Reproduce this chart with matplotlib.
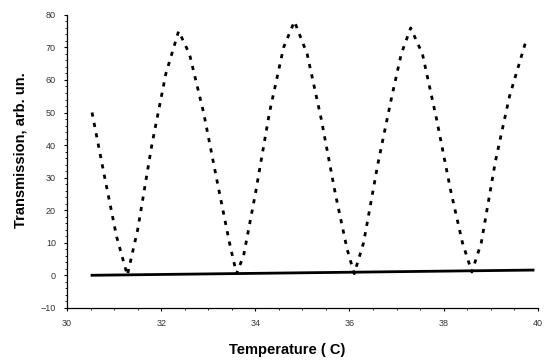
import matplotlib
matplotlib.use("Agg")
import matplotlib.pyplot as plt
from matplotlib.ticker import MultipleLocator

# transmission curve
temp = [30.53, 30.8, 31.05, 31.28, 31.5, 31.8, 32.1, 32.37, 32.6, 32.9, 33.2,
        33.45, 33.6, 33.75, 34.0, 34.3, 34.6, 34.83, 35.1, 35.4, 35.7, 35.95,
        36.1, 36.3, 36.6, 36.9, 37.1, 37.3, 37.55, 37.85, 38.15, 38.4, 38.6,
        38.8, 39.1, 39.4, 39.77]
trans = [50, 30, 12, 0, 14, 40, 62, 75, 68, 50, 28,
         10, 0.5, 6, 25, 50, 70, 78, 68, 48, 25, 8,
         0.5, 10, 34, 55, 68, 76, 68, 48, 26, 10, 1,
         10, 35, 55, 73]

# baseline
base_t = [30.53, 39.9]
base_v = [0.0, 1.6]

xticks = [30, 32, 34, 36, 38, 40]
yticks = [-10, 0, 10, 20, 30, 40, 50, 60, 70, 80]

plt.rcParams['font.family'] = ['Liberation Sans', 'DejaVu Sans']

fig = plt.figure(figsize=(5.59, 3.63), dpi=100)
ax = fig.add_axes([0.12, 0.152, 0.842, 0.807])

ax.plot(temp, trans, color='black', lw=2.0, linestyle=(0, (1.5, 2.3)))
ax.plot(base_t, base_v, color='black', lw=2.0)

ax.set_xlim(30, 40)
ax.set_ylim(-10, 80)
ax.set_xticks(xticks)
ax.set_yticks(yticks)
ax.xaxis.set_minor_locator(MultipleLocator(0.5))
ax.yaxis.set_minor_locator(MultipleLocator(2))

for side in ['top', 'right']:
    ax.spines[side].set_visible(False)
for side in ['left', 'bottom']:
    ax.spines[side].set_linewidth(0.9)

ax.tick_params(axis='both', which='major', direction='out', length=2, width=0.8,
               labelsize=6.5, labelcolor='#333333', pad=6)
ax.tick_params(axis='both', which='minor', direction='out', length=1.2, width=0.6)

ax.set_xlabel('Temperature ( C)', fontsize=10.5, fontweight='bold', va='center')
ax.set_ylabel('Transmission, arb. un.', fontsize=10.5, fontweight='bold', va='center')
ax.xaxis.set_label_coords(0.467, -0.143)
ax.yaxis.set_label_coords(-0.10, 0.54)

fig.savefig('out.png', dpi=100)
